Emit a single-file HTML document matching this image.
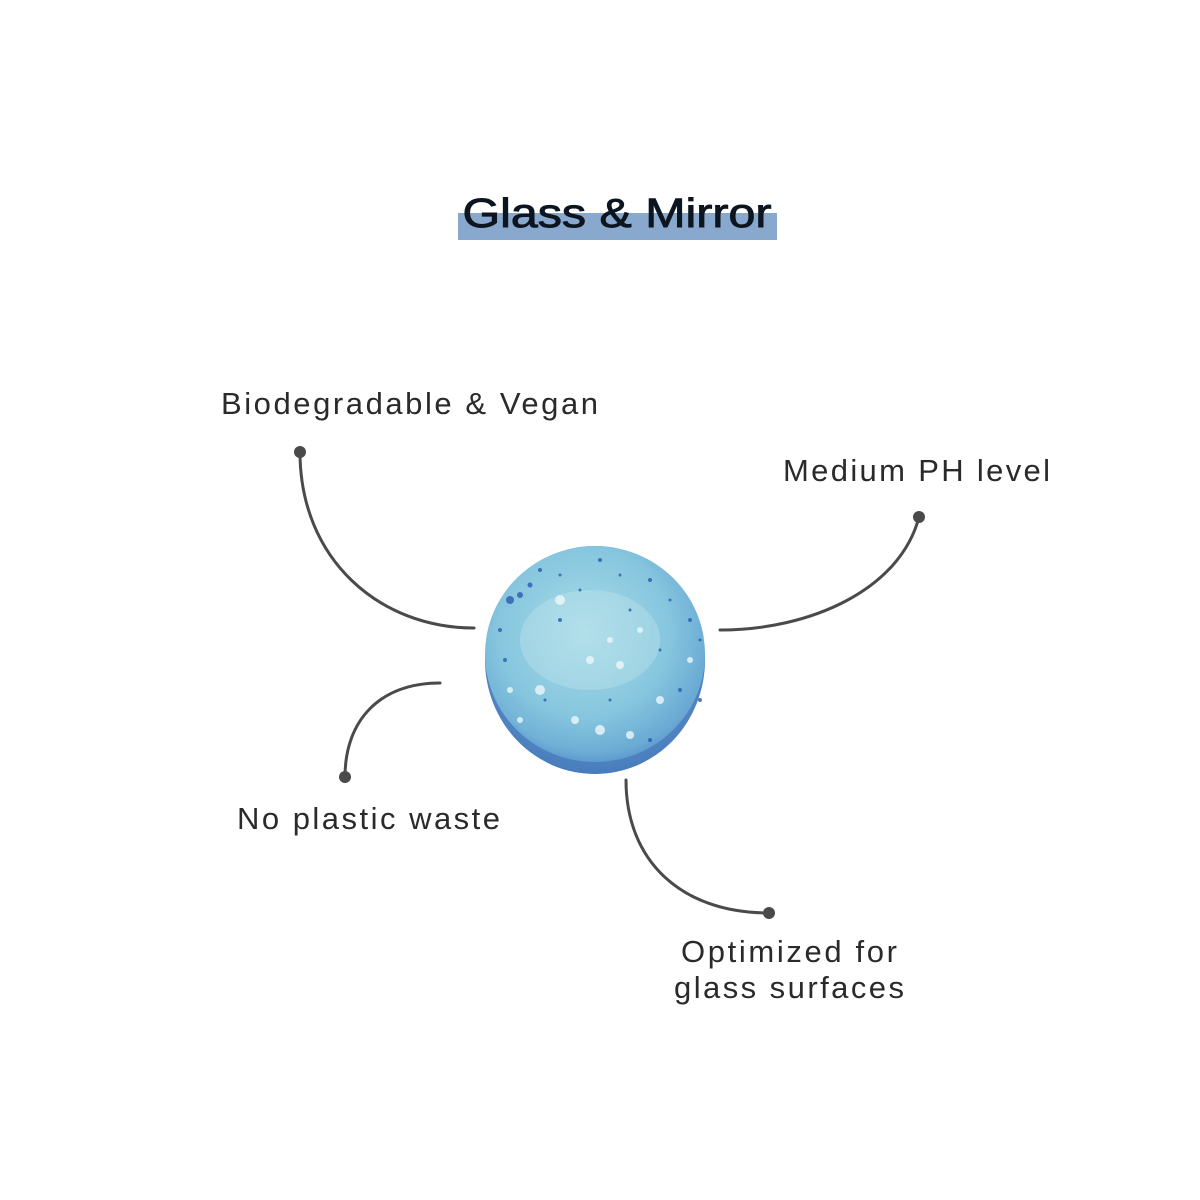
<!DOCTYPE html>
<html><head><meta charset="utf-8"><style>html,body{margin:0;padding:0;background:#fff}svg{display:block}</style></head>
<body>
<svg width="1200" height="1200" viewBox="0 0 1200 1200" xmlns="http://www.w3.org/2000/svg">
<defs>
<radialGradient id="g" cx="45%" cy="40%" r="65%">
<stop offset="0" stop-color="#a8dbe8"/>
<stop offset="0.6" stop-color="#86c6de"/>
<stop offset="1" stop-color="#5f9fd0"/>
</radialGradient>
<radialGradient id="rim" cx="50%" cy="30%" r="75%">
<stop offset="0.8" stop-color="#4a85c4" stop-opacity="0"/>
<stop offset="1" stop-color="#3a6fb3" stop-opacity="0.8"/>
</radialGradient>
</defs>
<rect x="458" y="213" width="319" height="27" fill="#88a8cd"/>
<text x="617" y="227" font-family="Liberation Sans, sans-serif" font-size="41" fill="#0c1520" stroke="#0c1520" stroke-width="0.9" text-anchor="middle" textLength="309" lengthAdjust="spacingAndGlyphs">Glass &amp; Mirror</text>

<ellipse cx="595" cy="660" rx="110" ry="114" fill="#4f82c0"/>
<ellipse cx="595" cy="654" rx="110" ry="108" fill="url(#g)"/>
<ellipse cx="595" cy="660" rx="110" ry="114" fill="url(#rim)"/>
<ellipse cx="590" cy="640" rx="70" ry="50" fill="#c5e8ef" opacity="0.35"/>
<g fill="#2a5bb0" opacity="0.8">
<circle cx="520" cy="595" r="3"/><circle cx="540" cy="570" r="2"/><circle cx="600" cy="560" r="2"/><circle cx="650" cy="580" r="2"/><circle cx="690" cy="620" r="2"/><circle cx="505" cy="660" r="2"/><circle cx="560" cy="620" r="2"/><circle cx="630" cy="610" r="1.5"/><circle cx="680" cy="690" r="2"/><circle cx="510" cy="600" r="4"/><circle cx="580" cy="590" r="1.5"/><circle cx="660" cy="650" r="1.5"/>
<circle cx="530" cy="585" r="2.5"/><circle cx="560" cy="575" r="1.5"/><circle cx="620" cy="575" r="1.5"/><circle cx="670" cy="600" r="1.5"/><circle cx="700" cy="640" r="1.5"/><circle cx="500" cy="630" r="2"/><circle cx="545" cy="700" r="1.5"/><circle cx="700" cy="700" r="2"/><circle cx="610" cy="700" r="1.5"/><circle cx="650" cy="740" r="2"/>
</g>
<g fill="#eef8fa" opacity="0.8">
<circle cx="560" cy="600" r="5"/><circle cx="590" cy="660" r="4"/><circle cx="620" cy="665" r="4"/><circle cx="540" cy="690" r="5"/><circle cx="660" cy="700" r="4"/><circle cx="600" cy="730" r="5"/><circle cx="520" cy="720" r="3"/><circle cx="640" cy="630" r="3"/><circle cx="690" cy="660" r="3"/>
<circle cx="575" cy="720" r="4"/><circle cx="630" cy="735" r="4"/><circle cx="510" cy="690" r="3"/><circle cx="610" cy="640" r="3"/>
</g>

<g fill="none" stroke="#4a4a4a" stroke-width="3" stroke-linecap="round">
<path d="M300,452 C300,560 380,628 474,628"/>
<path d="M919,517 C900,590 810,630 720,630"/>
<path d="M440,683 C380,683 345,720 345,777"/>
<path d="M626,780 C626,860 680,913 769,913"/>
</g>
<g fill="#4a4a4a">
<circle cx="300" cy="452" r="6"/><circle cx="919" cy="517" r="6"/><circle cx="345" cy="777" r="6"/><circle cx="769" cy="913" r="6"/>
</g>
<g font-family="Liberation Sans, sans-serif" font-size="31" fill="#2a2a2a" lengthAdjust="spacingAndGlyphs">
<text x="221" y="414" textLength="377">Biodegradable &amp; Vegan</text>
<text x="783" y="481" textLength="267">Medium PH level</text>
<text x="237" y="829" textLength="263">No plastic waste</text>
<text x="681" y="962" textLength="216">Optimized for</text>
<text x="674" y="998" textLength="230">glass surfaces</text>
</g>
</svg>
</body></html>
